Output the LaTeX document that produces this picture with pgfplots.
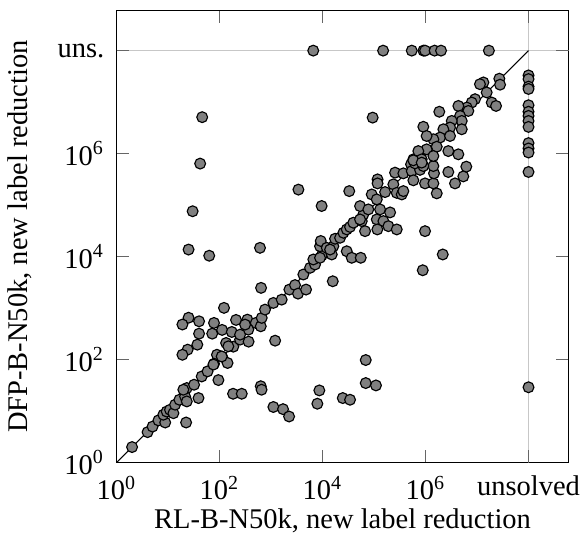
\documentclass[border=0pt]{standalone}
\usepackage{fontspec}
\setmainfont{Liberation Serif}
\usepackage{pgfplots}
\pgfplotsset{compat=1.18}

\begin{document}
\begin{tikzpicture}
\begin{axis}[
  xmode=log, ymode=log,
  width=158.6pt, height=158.6pt, scale only axis,
  xmin=1, xmax=6e8, ymin=1, ymax=6e8,
  xtick={1,100,1e4,1e6}, ytick={1,100,1e4,1e6},
  xticklabels={10\textsuperscript{0},10\textsuperscript{2},10\textsuperscript{4},10\textsuperscript{6}},
  yticklabels={10\textsuperscript{0},10\textsuperscript{2},10\textsuperscript{4},10\textsuperscript{6}},
  minor xtick={}, minor ytick={},
  extra x ticks={1e8}, extra x tick labels={unsolved},
  extra y ticks={1e8}, extra y tick labels={uns.},
  extra tick style={grid=major},
  grid style={black!22, line width=0.6pt},
  tick style={black!60},
  axis line style={line width=0.6pt},
  xticklabel style={yshift=-1.2pt},
  yticklabel style={xshift=-0.8pt},
  xlabel={RL-B-N50k, new label reduction},
  ylabel={DFP-B-N50k, new label reduction},
  xlabel style={yshift=3.9pt},
  ylabel style={yshift=2pt},
  clip=false]
\coordinate (o) at (rel axis cs:0,0);
\addplot[black, line width=0.4pt] coordinates {(1,1) (1e8,1e8)};
% solved by both
\addplot[only marks, mark=*, mark size=1.9pt, mark options={fill=gray, draw=black, line width=0.4pt}]
  table {
x y
46 5.1e6
42 6.4e5
30 7.6e4
25 1.37e4
63 1.04e4
610 1.48e4
640 2.47e3
122 1.01e3
3.4e3 2.0e5
3.3e4 1.87e5
9.6e3 9.6e4
9.4e4 5.0e6
25 650
19 480
40 554
78 515
40 319
72 319
112 377
173 344
209 589
347 597
505 515
631 443
362 382
37 195
24 156
19 124
134 210
185 178
250 244
366 223
1.2e3 233
89 124
112 114
78 83
143 86
148 181
313 478
250 305
2.0 2.0
4.0 3.9
5.0 5.0
6.5 6.6
8.8 6.0
8.1 8.5
9.4 9.8
10.9 10.6
12.7 9.1
13.7 13.3
16.6 16.6
21.4 19.2
23.1 28.0
19.8 26.0
22.4 6.0
39 17.9
32 32.5
45 47
58.5 59
95 40
183 21.7
270 21.7
23.1 15.4
76 80
110 115
659 645
764 935
1.11e3 1.26e3
1.61e3 1.46e3
2.27e3 2.29e3
2.92e3 2.80e3
3.34e3 1.91e3
4.78e3 2.29e3
4.24e3 4.49e3
5.72e3 6.05e3
7.15e3 7.02e3
631 30.4
654 26.0
1.11e3 12.0
1.71e3 10.9
2.24e3 7.85
8.67e3 25.2
7.93e3 13.9
2.47e4 17.9
3.42e4 16.6
6.9e4 98
6.9e4 35
1.09e5 31.5
1.58e4 3.32e3
9.78e5 3.12e4
2.16e6 1.10e4
8.83e5 5.43e3
6.62e3 8.79e3
9.64e3 1.05e4
1.51e4 1.10e4
8.94e3 9.48e3
8.94e3 1.59e4
9.23e3 2.01e4
1.21e4 1.48e4
1.62e4 1.59e4
1.40e4 1.37e4
1.75e4 2.22e4
2.19e4 2.32e4
2.54e4 2.90e4
2.95e4 3.37e4
3.42e4 3.77e4
3.96e4 4.55e4
2.95e4 1.27e4
3.69e4 9.48e3
5.52e4 9.48e3
5.77e4 4.89e4
6.20e4 6.59e4
5.35e4 9.57e4
7.75e4 8.25e4
6.69e4 3.12e4
5.35e4 5.27e4
9.02e4 1.61e5
1.13e5 1.29e5
1.31e5 8.25e4
1.13e5 5.27e4
1.52e5 4.89e4
1.16e5 3.37e4
1.90e5 3.90e4
2.76e5 3.37e4
2.05e5 7.21e4
1.17e5 3.16e5
1.17e5 2.64e5
1.64e5 1.79e5
2.37e5 2.53e5
2.76e5 1.73e5
3.45e5 1.61e5
3.71e5 1.87e5
2.56e5 4.27e5
3.71e5 4.14e5
5.23e5 6.19e5
5.80e5 7.74e5
5.40e5 4.58e5
5.80e5 3.03e5
7.82e5 4.84e5
9.78e5 2.64e5
1.42e6 2.64e5
1.65e6 1.69e5
1.46e6 4.14e5
1.42e6 5.74e5
9.06e5 5.74e5
6.25e5 6.47e5
2.77e6 4.39e5
3.74e6 2.64e5
5.42e6 3.61e5
6.19e6 5.58e5
2.71e7 2.85e7
2.80e7 2.18e7
1.33e7 2.41e7
1.14e7 2.23e7
1.54e7 1.54e7
1.93e7 9.82e6
2.34e7 8.43e6
9.15e6 1.14e7
7.89e6 9.82e6
6.31e6 7.85e6
4.34e6 8.43e6
1.85e6 6.50e6
6.78e6 6.74e6
4.68e6 5.39e6
5.05e6 4.31e6
3.23e6 4.31e6
2.99e6 3.21e6
5.05e6 2.97e6
2.22e6 2.97e6
9.06e5 3.32e6
1.91e6 2.05e6
2.99e6 2.20e6
1.42e6 1.90e6
1.05e6 2.20e6
2.77e6 1.12e6
4.34e6 9.69e5
1.65e6 1.36e6
1.05e6 1.21e6
7.24e5 1.12e6
8.43e5 7.74e5
5.80e5 7.41e5
1.42e6 8.98e5
8.43e5 6.68e5
};
% unsolved by DFP (top row) and by RL (right column)
\addplot[only marks, mark=*, mark size=1.9pt, mark options={fill=gray, draw=black, line width=0.4pt}]
  table {
x y
6.6e3 1e8
1.5e5 1e8
5.4e5 1e8
9.1e5 1e8
9.8e5 1e8
1.5e6 1e8
2.0e6 1e8
1.7e7 1e8
1e8 3.3e7
1e8 2.8e7
1e8 2.0e7
1e8 1.8e7
1e8 8.7e6
1e8 6.5e6
1e8 5.4e6
1e8 4.3e6
1e8 3.3e6
1e8 1.6e6
1e8 1.26e6
1e8 1.05e6
1e8 4.4e5
1e8 29
};
\end{axis}
\pgfresetboundingbox
\path ([shift={(-40.9pt,-25.4pt)}]o) rectangle ++(203.5pt,187.7pt);
\end{tikzpicture}
\end{document}
